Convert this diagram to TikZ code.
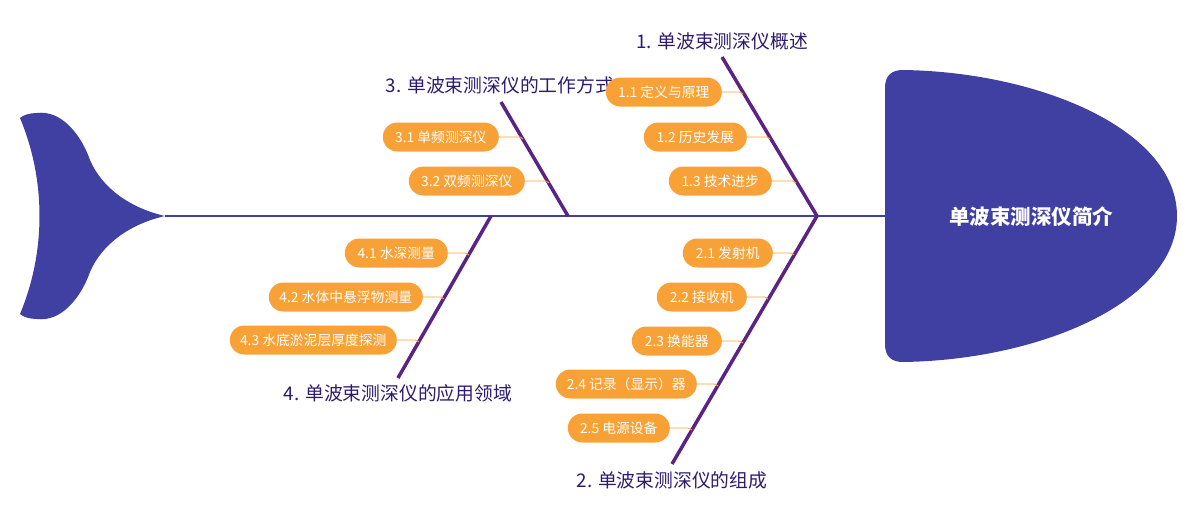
\documentclass[tikz,border=0pt]{standalone}
\usepackage{fontspec}
\setmainfont{Noto Sans CJK SC}
\usetikzlibrary{calc}
\definecolor{spinec}{HTML}{4040A3}
\definecolor{branchc}{HTML}{5B2383}
\definecolor{lblc}{HTML}{2F1B6E}
\definecolor{orgc}{HTML}{F8A136}
\begin{document}
\begin{tikzpicture}[x=1pt,y=-1pt,
  pill/.style={fill=orgc, text=white, rounded corners=14.5pt, minimum height=29pt,
    inner xsep=4pt, inner ysep=0pt, font=\fontsize{13.8}{15}\selectfont, anchor=east},
  catlbl/.style={text=lblc, font=\fontsize{18.8}{20}\selectfont, inner sep=0pt},
  bone/.style={draw=branchc, line width=3.5pt},
  conn/.style={draw=orgc, line width=0.9pt},
  spineline/.style={draw=spinec, line width=2pt}]
\useasboundingbox (0,0) rectangle (1200,522);
% coordinates
\coordinate (tailtip) at (165,216);
\coordinate (headL) at (885,216);
\coordinate (j1) at (817,216);
\coordinate (j3) at (568,216);
\coordinate (j4) at (491,216);
\coordinate (b1) at (722,57);
\coordinate (b2) at (672,464);
\coordinate (b3) at (501,102);
\coordinate (b4) at (398,378);
% tail
\fill[spinec] (tailtip) .. controls (130,208) and (102,188) .. (90,160)
  .. controls (80,132) and (60,110) .. (37,113)
  .. controls (30,113) and (23,115) .. (20,118)
  .. controls (46,180) and (46,252) .. (20,314)
  .. controls (23,317) and (30,319) .. (37,319)
  .. controls (60,322) and (80,300) .. (90,272)
  .. controls (102,244) and (130,224) .. (tailtip) -- cycle;
% head
\fill[spinec] (885,88) .. controls (885,76) and (891,70) .. (903,70)
  .. controls (1040,72) and (1177,130) .. (1177,216)
  .. controls (1177,302) and (1040,360) .. (903,362)
  .. controls (891,362) and (885,356) .. (885,344) -- cycle;
\node[text=white, font=\fontsize{20.5}{22}\selectfont\bfseries] (head) at (1031,217) {单波束测深仪简介};
% spine
\draw[spineline] (tailtip) -- (headL);
% bones
\draw[bone] (b1) -- (j1);
\draw[bone] (j1) -- (b2);
\draw[bone] (b3) -- (j3);
\draw[bone] (j4) -- (b4);
% category labels
\node[catlbl] (L1) at (722,41) {1. 单波束测深仪概述};
\node[catlbl] (L3) at (500,85) {3. 单波束测深仪的工作方式};
\node[catlbl] (L4) at (398,393) {4. 单波束测深仪的应用领域};
\node[catlbl] (L2) at (672,480) {2. 单波束测深仪的组成};
% connector end points on bones
\coordinate (c11) at (743,94);
\coordinate (c12) at (770,139);
\coordinate (c13) at (796,183);
\coordinate (c31) at (523,139);
\coordinate (c32) at (549,183);
\coordinate (c41) at (469,255);
\coordinate (c42) at (444,299);
\coordinate (c43) at (419,342);
\coordinate (c21) at (794,255);
\coordinate (c22) at (768,299);
\coordinate (c23) at (743,343);
\coordinate (c24) at (718,386);
\coordinate (c25) at (692,430);
% sub boxes
\node[pill, minimum width=116pt] (n11) at (722,92) {1.1 定义与原理};
\node[pill, minimum width=103pt] (n12) at (747,137) {1.2 历史发展};
\node[pill, minimum width=103pt] (n13) at (772,181) {1.3 技术进步};
\node[pill, minimum width=116pt] (n31) at (499,137) {3.1 单频测深仪};
\node[pill, minimum width=116pt] (n32) at (525,181) {3.2 双频测深仪};
\node[pill, minimum width=103pt] (n41) at (448,253) {4.1 水深测量};
\node[pill, minimum width=154pt] (n42) at (423,297) {4.2 水体中悬浮物测量};
\node[pill, minimum width=167pt] (n43) at (397,340) {4.3 水底淤泥层厚度探测};
\node[pill, minimum width=90pt] (n21) at (773,253) {2.1 发射机};
\node[pill, minimum width=90pt] (n22) at (747,297) {2.2 接收机};
\node[pill, minimum width=90pt] (n23) at (722,341) {2.3 换能器};
\node[pill, minimum width=141pt] (n24) at (697,384) {2.4 记录（显示）器};
\node[pill, minimum width=102pt] (n25) at (670,428) {2.5 电源设备};
% connectors
\foreach \n in {11,12,13,31,32,41,42,43,21,22,23,24,25}{
  \draw[conn] (n\n.east) -- ($(c\n)+(-7,-2)$) .. controls ($(c\n)+(-2,-2)$) .. (c\n);
}
\end{tikzpicture}
\end{document}
